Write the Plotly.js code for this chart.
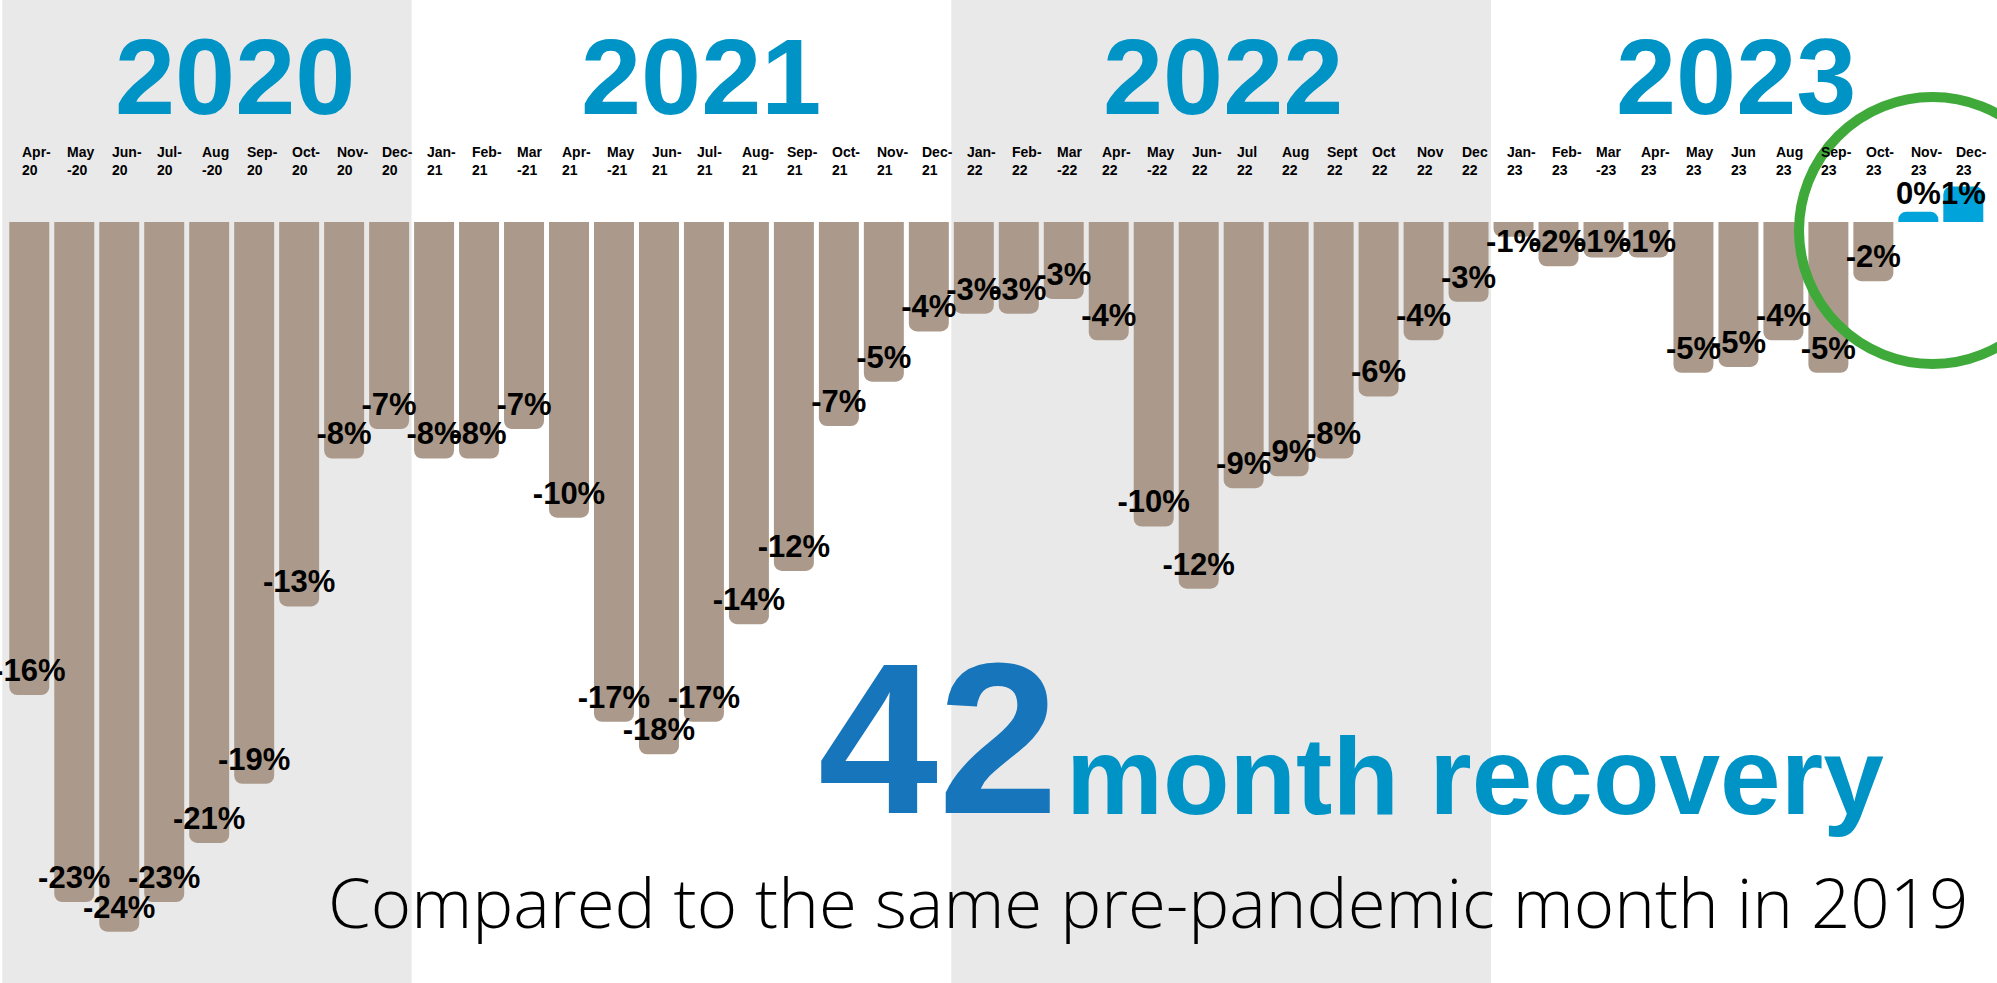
<!DOCTYPE html>
<html>
<head>
<meta charset="utf-8">
<script src="https://cdn.plot.ly/plotly-3.0.1.min.js"></script>
<style>
  html, body { margin: 0; padding: 0; background: #ffffff; }
  #chart { width: 1997px; height: 983px; }
</style>
</head>
<body>
<div id="chart"></div>
<script>
// ---- data ----
const months = ['Apr-20','May-20','Jun-20','Jul-20','Aug-20','Sep-20','Oct-20','Nov-20','Dec-20',
  'Jan-21','Feb-21','Mar-21','Apr-21','May-21','Jun-21','Jul-21','Aug-21','Sep-21','Oct-21','Nov-21','Dec-21',
  'Jan-22','Feb-22','Mar-22','Apr-22','May-22','Jun-22','Jul-22','Aug-22','Sep-22','Oct-22','Nov-22','Dec-22',
  'Jan-23','Feb-23','Mar-23','Apr-23','May-23','Jun-23','Aug-23','Sep-23','Oct-23','Nov-23','Dec-23'];

const tickTop = ['Apr-','May','Jun-','Jul-','Aug','Sep-','Oct-','Nov-','Dec-',
  'Jan-','Feb-','Mar','Apr-','May','Jun-','Jul-','Aug-','Sep-','Oct-','Nov-','Dec-',
  'Jan-','Feb-','Mar','Apr-','May','Jun-','Jul','Aug','Sept','Oct','Nov','Dec',
  'Jan-','Feb-','Mar','Apr-','May','Jun','Aug','Sep-','Oct-','Nov-','Dec-'];
const tickBottom = ['20','-20','20','20','-20','20','20','20','20',
  '21','21','-21','21','-21','21','21','21','21','21','21','21',
  '22','22','-22','22','-22','22','22','22','22','22','22','22',
  '23','23','-23','23','23','23','23','23','23','23','23'];

// change vs same month of 2019 (%), bar lengths as drawn
const change = [-16,-23,-24,-23,-21,-19,-13,-8,-7,
  -8,-8,-7,-10,-16.9,-18,-16.9,-13.6,-11.8,-6.9,-5.4,-3.7,
  -3.1,-3.1,-2.6,-4,-10.3,-12.4,-9,-8.6,-8,-5.9,-4,-2.7,
  -0.5,-1.5,-1.2,-1.2,-5.1,-4.9,-4,-5.1,-2,0.35,1.2];

// printed (rounded) labels
const changeLabel = [-16,-23,-24,-23,-21,-19,-13,-8,-7,
  -8,-8,-7,-10,-17,-18,-17,-14,-12,-7,-5,-4,
  -3,-3,-3,-4,-10,-12,-9,-9,-8,-6,-4,-3,
  -1,-2,-1,-1,-5,-5,-4,-5,-2,0,1];

const years = ['2020','2021','2022','2023'];
const yearPos = [0.1177, 0.3510, 0.6124, 0.8693];

// ---- styling ----
const BROWN = '#ab9a8b';
const BLUE_BAR = '#00a3da';
const YEAR_BLUE = '#0093c6';

const barColors = change.map(v => v >= 0 ? BLUE_BAR : BROWN);
const labelY = change.map(v => v >= 0 ? Math.max(v - 0.35, 0.86) : Math.min(v + 0.74, -0.74));

const bars = {
  type: 'bar',
  x: months,
  y: change,
  marker: { color: barColors, line: { width: 0 } },
  hoverinfo: 'skip'
};

const labels = {
  type: 'scatter',
  mode: 'text',
  x: months,
  y: labelY,
  text: changeLabel.map(v => v + '%'),
  textposition: 'middle center',
  textfont: { family: 'Liberation Sans, Arial, sans-serif', size: 31, color: '#000000', weight: 700 },
  cliponaxis: false,
  hoverinfo: 'skip'
};

const annotations = [];
years.forEach((yr, i) => {
  annotations.push({
    xref: 'paper', yref: 'paper', x: yearPos[i], y: 0.9221,
    xanchor: 'center', yanchor: 'middle', showarrow: false,
    text: yr,
    font: { family: 'Liberation Sans, Arial, sans-serif', size: 108, color: YEAR_BLUE, weight: 700 }
  });
});
const TICK_FONT = { family: 'Liberation Sans, Arial, sans-serif', size: 14, color: '#000000', weight: 700 };
months.forEach((m, i) => {
  annotations.push({
    xref: 'x', yref: 'paper', x: i, y: 1 - 161 / 983,
    xanchor: 'left', yanchor: 'middle', align: 'left', xshift: -9, showarrow: false,
    text: tickTop[i] + '<br>' + tickBottom[i], font: TICK_FONT
  });
});
annotations.push({
  xref: 'paper', yref: 'paper', x: 937.5 / 1997, y: 1 - 737.9 / 983,
  xanchor: 'center', yanchor: 'middle', showarrow: false,
  text: '42',
  font: { family: 'Liberation Sans, Arial, sans-serif', size: 216, color: '#1675bb', weight: 700 }
});
annotations.push({
  xref: 'paper', yref: 'paper', x: 1064 / 1997, y: 1 - 776 / 983,
  xanchor: 'left', yanchor: 'middle', showarrow: false,
  text: 'month recovery',
  font: { family: 'Liberation Sans, Arial, sans-serif', size: 109, color: YEAR_BLUE, weight: 700 }
});
annotations.push({
  xref: 'paper', yref: 'paper', x: 1970 / 1997, y: 1 - 901 / 983,
  xanchor: 'right', yanchor: 'middle', showarrow: false,
  text: 'Compared to the same pre-pandemic month in 2019',
  font: { family: 'Open Sans, Lato, sans-serif', size: 69, color: '#000000', weight: 300 }
});

const shapes = [
  { type: 'rect', layer: 'below', xref: 'x', yref: 'paper', x0: -0.6, x1: 8.5, y0: 0, y1: 1,
    fillcolor: '#e9e9e9', line: { width: 0 } },
  { type: 'rect', layer: 'below', xref: 'x', yref: 'paper', x0: 20.5, x1: 32.5, y0: 0, y1: 1,
    fillcolor: '#e9e9e9', line: { width: 0 } },
  { type: 'circle', layer: 'above', xref: 'paper', yref: 'paper',
    x0: 1799 / 1997, x1: 2066 / 1997, y0: 1 - 364 / 983, y1: 1 - 97 / 983,
    line: { color: '#3fa93a', width: 10 }, fillcolor: 'rgba(0,0,0,0)' }
];

const layout = {
  width: 1997, height: 983,
  margin: { l: 0, r: 0, t: 0, b: 0, pad: 0 },
  paper_bgcolor: '#ffffff', plot_bgcolor: '#ffffff',
  showlegend: false,
  bargap: 0.111,
  barcornerradius: 8,
  xaxis: { type: 'category', range: [-0.651, 43.749], showticklabels: false, showgrid: false,
    zeroline: false, showline: false, ticks: '', fixedrange: true },
  yaxis: { range: [-25.736, 7.508], showticklabels: false, showgrid: false, zeroline: false,
    showline: false, ticks: '', fixedrange: true },
  shapes: shapes,
  annotations: annotations
};

Plotly.newPlot('chart', [bars, labels], layout, { displayModeBar: false, staticPlot: true });
</script>
</body>
</html>
